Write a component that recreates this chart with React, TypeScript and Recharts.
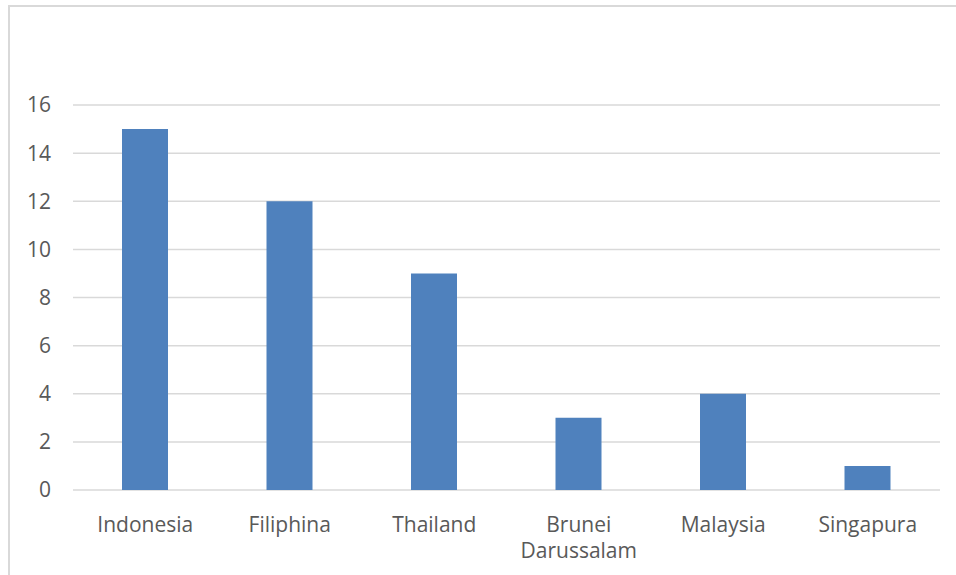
import { Bar, BarChart, CartesianGrid, XAxis, YAxis } from "recharts";

const countries = [
  "Indonesia",
  "Filiphina",
  "Thailand",
  "Brunei Darussalam",
  "Malaysia",
  "Singapura",
];
const counts = [15, 12, 9, 3, 4, 1];
const yTicks = [0, 2, 4, 6, 8, 10, 12, 14, 16];

const data = countries.map((name, i) => ({ name, value: counts[i] }));

const FONT = "'Open Sans', 'DejaVu Sans', sans-serif";
const TEXT = "#595959";
const GRID = "#d9d9d9";

function CategoryTick({ x, y, payload }: { x?: number; y?: number; payload?: { value: string } }) {
  const label = payload?.value ?? "";
  // long labels wrap onto two lines, like the spreadsheet axis
  const lines = label.length > 12 ? label.split(" ") : [label];
  return (
    <text
      x={x}
      y={(y ?? 0) + 42}
      textAnchor="middle"
      fill={TEXT}
      fontFamily={FONT}
      fontSize={21}
    >
      {lines.map((l, i) => (
        <tspan key={i} x={x} dy={i === 0 ? 0 : 26}>
          {l}
        </tspan>
      ))}
    </text>
  );
}

export default function App() {
  return (
    <div
      style={{
        position: "absolute",
        left: 0,
        top: 0,
        width: 956,
        height: 575,
        overflow: "hidden",
        background: "#fff",
      }}
    >
      <div
        style={{
          position: "absolute",
          left: 8,
          top: 5,
          width: 1000,
          height: 620,
          border: `2px solid ${GRID}`,
        }}
      />
      <div style={{ position: "absolute", left: 0, top: 0 }}>
        <BarChart
          width={956}
          height={575}
          data={data}
          margin={{ top: 105, right: 16, bottom: 25, left: 13 }}
        >
          <CartesianGrid
            vertical={false}
            stroke={GRID}
            strokeWidth={1.5}
          />
          <XAxis
            dataKey="name"
            axisLine={false}
            tickLine={false}
            tickSize={0}
            tickMargin={0}
            height={60}
            interval={0}
            tick={<CategoryTick />}
          />
          <YAxis
            domain={[0, 16]}
            ticks={yTicks}
            axisLine={false}
            tickLine={false}
            tickSize={0}
            tickMargin={22}
            width={60}
            tick={{ fill: TEXT, fontFamily: FONT, fontSize: 21 }}
          />
          <Bar
            dataKey="value"
            fill="#4f81bd"
            barSize={46}
            isAnimationActive={false}
          />
        </BarChart>
      </div>
    </div>
  );
}
